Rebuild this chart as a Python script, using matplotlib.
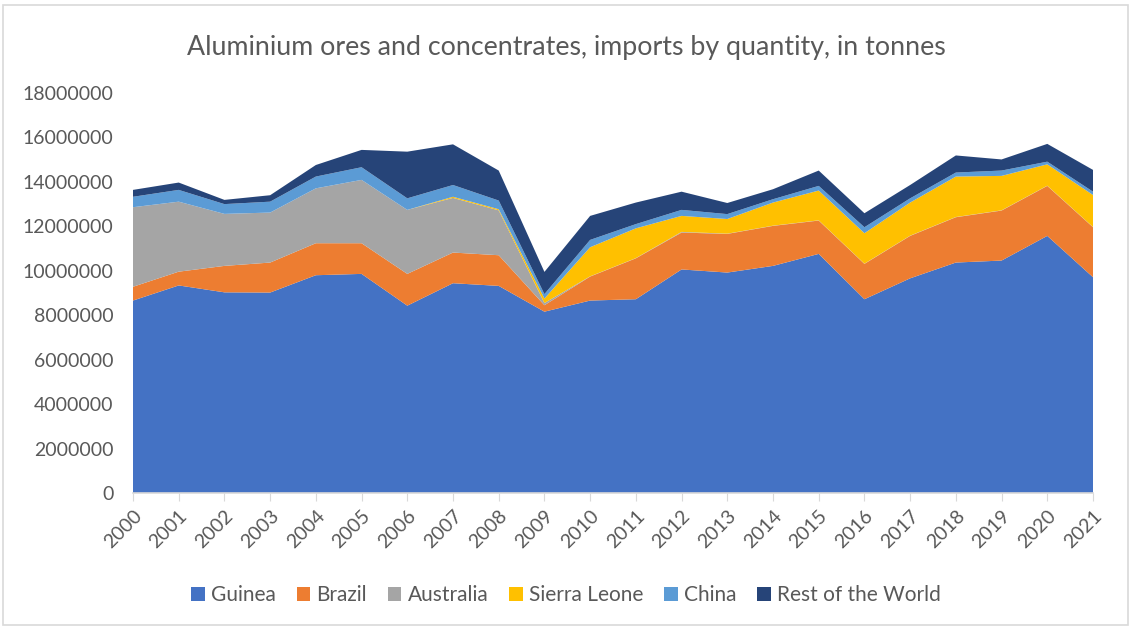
import matplotlib
matplotlib.use("Agg")
import matplotlib.pyplot as plt
from matplotlib.patches import Rectangle
import numpy as np

years = [str(y) for y in range(2000, 2022)]
guinea = [8.66, 9.34, 9.03, 9.02, 9.80, 9.86, 8.43, 9.44, 9.32, 8.16, 8.66,
          8.72, 10.06, 9.92, 10.22, 10.76, 8.72, 9.66, 10.37, 10.46, 11.57, 9.71]
brazil = [0.62, 0.62, 1.19, 1.35, 1.44, 1.38, 1.43, 1.38, 1.38, 0.29, 1.08,
          1.84, 1.66, 1.74, 1.80, 1.50, 1.59, 1.91, 2.04, 2.25, 2.25, 2.25]
australia = [3.58, 3.15, 2.34, 2.25, 2.47, 2.85, 2.88, 2.46, 2.02, 0.10, 0.01,
             0.01, 0.03, 0.01, 0.01, 0.01, 0.01, 0.01, 0.01, 0.01, 0.01, 0.01]
sierra_leone = [0.0, 0.0, 0.0, 0.0, 0.0, 0.0, 0.0, 0.05, 0.05, 0.20, 1.31,
                1.34, 0.72, 0.66, 1.04, 1.34, 1.37, 1.49, 1.82, 1.55, 0.96, 1.44]
china = [0.47, 0.53, 0.44, 0.49, 0.53, 0.57, 0.52, 0.53, 0.39, 0.20, 0.33,
         0.19, 0.27, 0.22, 0.15, 0.21, 0.27, 0.19, 0.18, 0.24, 0.12, 0.15]
rest_of_world = [0.31, 0.33, 0.19, 0.29, 0.52, 0.78, 2.10, 1.83, 1.35, 1.00, 1.08,
                 0.97, 0.82, 0.50, 0.45, 0.69, 0.63, 0.60, 0.77, 0.50, 0.80, 0.98]

series_names = ["Guinea", "Brazil", "Australia", "Sierra Leone", "China", "Rest of the World"]
colors = ["#4472C4", "#ED7D31", "#A5A5A5", "#FFC000", "#5B9BD5", "#264478"]
yticks = [0, 2000000, 4000000, 6000000, 8000000, 10000000, 12000000,
          14000000, 16000000, 18000000]

plt.rcParams['font.family'] = ['Lato', 'DejaVu Sans']

fig = plt.figure(figsize=(11.32, 6.28), dpi=100)
ax = fig.add_axes([133/1132, 1 - 493/628, 960/1132, 400/628])

x = np.arange(len(years))
data = np.array([guinea, brazil, australia, sierra_leone, china, rest_of_world]) * 1e6
ax.stackplot(x, data, colors=colors, labels=series_names, linewidth=0)

ax.set_xlim(0, len(years) - 1)
ax.set_ylim(0, 18000000)
ax.set_yticks(yticks)
ax.set_yticklabels([str(v) for v in yticks])
ax.set_xticks(x)
ax.set_xticklabels(years, rotation=45, ha='right', rotation_mode='anchor')

for s in ['top', 'right', 'left']:
    ax.spines[s].set_visible(False)
ax.spines['bottom'].set_color('#D9D9D9')
ax.spines['bottom'].set_linewidth(1.2)
ax.tick_params(axis='y', length=0, labelsize=14, labelcolor='#595959', pad=14)
ax.tick_params(axis='x', length=6, color='#D9D9D9', labelsize=14,
               labelcolor='#595959', pad=4)

fig.text(0.5, 1 - 47/628, "Aluminium ores and concentrates, imports by quantity, in tonnes",
         ha='center', va='center', fontsize=19.3, color='#595959')

handles, labels = ax.get_legend_handles_labels()
leg = fig.legend(handles, labels, loc='center', bbox_to_anchor=(0.5, 1 - 595/628),
                 ncol=6, frameon=False, fontsize=15, handlelength=0.65, handleheight=0.65,
                 handletextpad=0.3, columnspacing=1.0)
for t in leg.get_texts():
    t.set_color('#595959')

fig.patches.append(Rectangle((3/1132, 3/628), 1125/1132, 620/628, transform=fig.transFigure,
                             fill=False, edgecolor='#D9D9D9', linewidth=1.2))

fig.savefig("out.png", dpi=100)
